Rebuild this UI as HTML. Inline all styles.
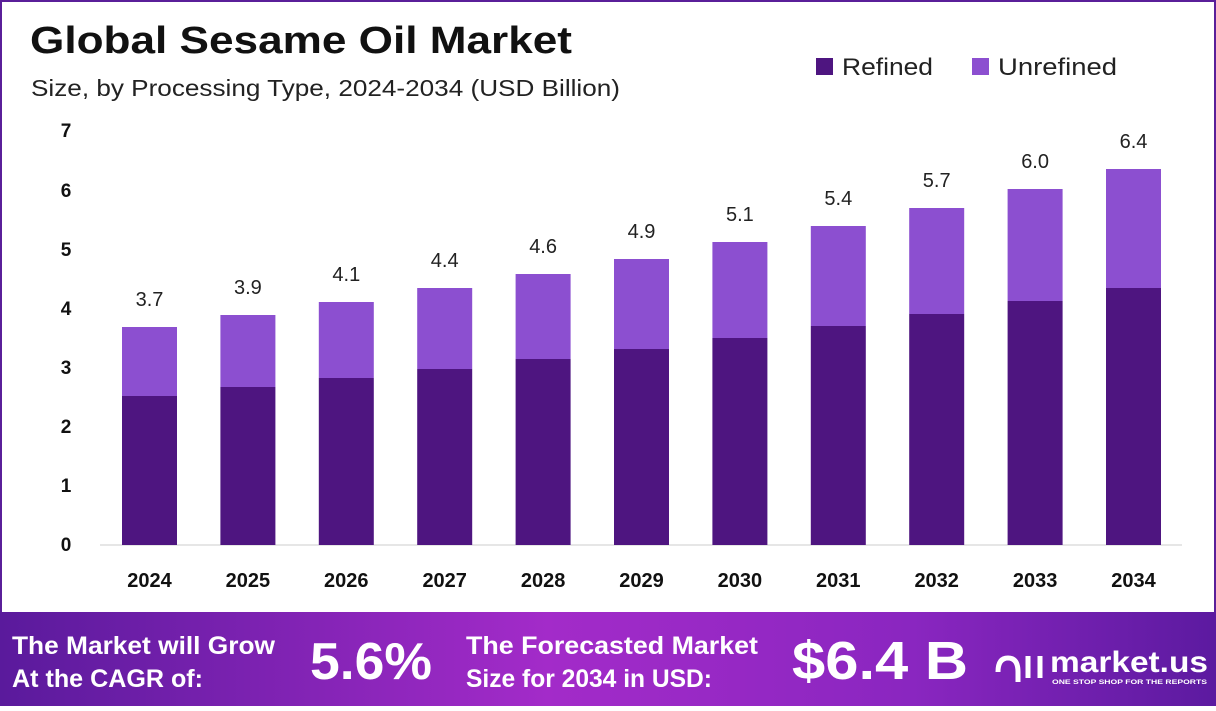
<!DOCTYPE html>
<html><head><meta charset="utf-8"><style>
body{margin:0;width:1216px;height:706px;overflow:hidden;font-family:"Liberation Sans",sans-serif;}
</style></head><body>
<svg width="1216" height="706" xmlns="http://www.w3.org/2000/svg" font-family="Liberation Sans, sans-serif">
<defs>
<linearGradient id="g" x1="0" y1="0" x2="1" y2="0">
<stop offset="0" stop-color="#5a1a9c"/><stop offset="0.45" stop-color="#a32bc9"/><stop offset="0.75" stop-color="#8a26c0"/><stop offset="1" stop-color="#5c1aa0"/>
</linearGradient>
</defs>
<rect x="0" y="0" width="1216" height="706" fill="#fff"/>
<rect x="1" y="1" width="1214" height="620" fill="none" stroke="#5a1f99" stroke-width="2"/>
<text x="30" y="53" font-size="38" font-weight="bold" fill="#111" textLength="542" lengthAdjust="spacingAndGlyphs">Global Sesame Oil Market</text>
<text x="31" y="96" font-size="23" fill="#222" textLength="589" lengthAdjust="spacingAndGlyphs">Size, by Processing Type, 2024-2034 (USD Billion)</text>
<rect x="816" y="58" width="17" height="17" fill="#4e1580"/>
<text x="842" y="75" font-size="24" fill="#222" textLength="91" lengthAdjust="spacingAndGlyphs">Refined</text>
<rect x="972" y="58" width="17" height="17" fill="#8c4fd0"/>
<text x="998" y="75" font-size="24" fill="#222" textLength="119" lengthAdjust="spacingAndGlyphs">Unrefined</text>
<g font-size="19" font-weight="bold" fill="#111" text-anchor="middle">
<text x="66" y="551">0</text><text x="66" y="492">1</text><text x="66" y="433">2</text><text x="66" y="374">3</text><text x="66" y="315">4</text><text x="66" y="256">5</text><text x="66" y="197">6</text><text x="66" y="137">7</text>
</g>
<line x1="100" y1="545" x2="1182" y2="545" stroke="#ccc" stroke-width="1"/>
<g fill="#8c4fd0">
<rect x="122" y="327" width="55" height="69"/>
<rect x="220.4" y="315" width="55" height="72"/>
<rect x="318.8" y="302" width="55" height="76"/>
<rect x="417.2" y="288" width="55" height="81"/>
<rect x="515.6" y="274" width="55" height="85"/>
<rect x="614" y="259" width="55" height="90"/>
<rect x="712.4" y="242" width="55" height="96"/>
<rect x="810.8" y="226" width="55" height="100"/>
<rect x="909.2" y="208" width="55" height="106"/>
<rect x="1007.6" y="189" width="55" height="112"/>
<rect x="1106" y="169" width="55" height="119"/>
</g>
<g fill="#4e1580">
<rect x="122" y="396" width="55" height="149"/>
<rect x="220.4" y="387" width="55" height="158"/>
<rect x="318.8" y="378" width="55" height="167"/>
<rect x="417.2" y="369" width="55" height="176"/>
<rect x="515.6" y="359" width="55" height="186"/>
<rect x="614" y="349" width="55" height="196"/>
<rect x="712.4" y="338" width="55" height="207"/>
<rect x="810.8" y="326" width="55" height="219"/>
<rect x="909.2" y="314" width="55" height="231"/>
<rect x="1007.6" y="301" width="55" height="244"/>
<rect x="1106" y="288" width="55" height="257"/>
</g>
<g font-size="20" text-anchor="middle" fill="#222">
<text x="149.5" y="306">3.7</text>
<text x="247.9" y="294">3.9</text>
<text x="346.3" y="281">4.1</text>
<text x="444.7" y="267">4.4</text>
<text x="543.1" y="253">4.6</text>
<text x="641.5" y="238">4.9</text>
<text x="739.9" y="221">5.1</text>
<text x="838.3" y="205">5.4</text>
<text x="936.7" y="187">5.7</text>
<text x="1035.1" y="168">6.0</text>
<text x="1133.5" y="148">6.4</text>
</g>
<g font-size="20" font-weight="bold" text-anchor="middle" fill="#111">
<text x="149.5" y="587">2024</text>
<text x="247.9" y="587">2025</text>
<text x="346.3" y="587">2026</text>
<text x="444.7" y="587">2027</text>
<text x="543.1" y="587">2028</text>
<text x="641.5" y="587">2029</text>
<text x="739.9" y="587">2030</text>
<text x="838.3" y="587">2031</text>
<text x="936.7" y="587">2032</text>
<text x="1035.1" y="587">2033</text>
<text x="1133.5" y="587">2034</text>
</g>
<rect x="0" y="612" width="1216" height="94" fill="url(#g)"/>
<g fill="#fff" font-weight="bold">
<text x="12" y="654" font-size="25" textLength="263" lengthAdjust="spacingAndGlyphs">The Market will Grow</text>
<text x="12" y="687" font-size="25" textLength="191" lengthAdjust="spacingAndGlyphs">At the CAGR of:</text>
<text x="310" y="679" font-size="52" textLength="122" lengthAdjust="spacingAndGlyphs">5.6%</text>
<text x="466" y="654" font-size="25" textLength="292" lengthAdjust="spacingAndGlyphs">The Forecasted Market</text>
<text x="466" y="687" font-size="25" textLength="246" lengthAdjust="spacingAndGlyphs">Size for 2034 in USD:</text>
<text x="792" y="679" font-size="54" textLength="176" lengthAdjust="spacingAndGlyphs">$6.4 B</text>
<text x="1050" y="672" font-size="30" textLength="158" lengthAdjust="spacingAndGlyphs">market.us</text>
<text x="1052" y="684" font-size="6" textLength="155" lengthAdjust="spacingAndGlyphs">ONE STOP SHOP FOR THE REPORTS</text>
<path d="M998 672 q0 -14 10 -14 q10 0 10 14 v10 M1028 656 v22 M1040 656 v22" stroke="#fff" stroke-width="5" fill="none"/>
</g>
</svg>
</body></html>
